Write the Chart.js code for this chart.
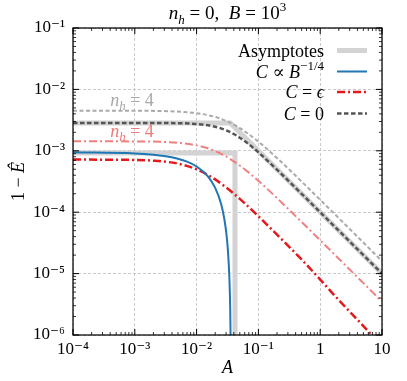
<!DOCTYPE html>
<html><head><meta charset="utf-8">
<script src="https://cdn.jsdelivr.net/npm/chart.js@4.4.1/dist/chart.umd.min.js"></script>
<style>html,body{margin:0;padding:0;background:#fff}</style>
</head><body>
<canvas id="c" width="407" height="381" style="width:407px;height:381px;display:block"></canvas>
<script>
// ---- data ----
const xTickVals = [1e-4, 1e-3, 1e-2, 1e-1, 1, 10];
const xTickLabels = ['10⁻⁴', '10⁻³', '10⁻²', '10⁻¹', '1', '10'];
const yTickVals = [1e-6, 1e-5, 1e-4, 1e-3, 1e-2, 1e-1];
const yTickLabels = ['10⁻⁶', '10⁻⁵', '10⁻⁴', '10⁻³', '10⁻²', '10⁻¹'];

// C ∝ B^{-1/4} (blue)
const blueA = [1e-4, 1e-3, 2e-3, 3e-3, 5e-3, 7e-3, 1e-2, 1.5e-2, 2e-2, 2.5e-2, 2.8e-2, 3e-2, 3.2e-2, 3.4e-2, 3.5e-2, 3.55e-2];
const blueY = [9.46e-4, 9.07e-4, 8.64e-4, 8.23e-4, 7.42e-4, 6.65e-4, 5.55e-4, 3.9e-4, 2.49e-4, 1.35e-4, 7.9e-5, 4.9e-5, 2.5e-5, 8.1e-6, 2.6e-6, 8.2e-7];

// C = ε, n_h = 0 (red)
const redA = [1e-4, 1e-3, 2e-3, 5e-3, 1e-2, 1.5e-2, 2e-2, 3e-2, 5e-2, 0.1, 0.2, 0.5, 1, 2, 5, 10];
const redY = [7.2e-4, 7.09e-4, 6.9e-4, 6.18e-4, 5.0e-4, 4.09e-4, 3.42e-4, 2.54e-4, 1.65e-4, 8.6e-5, 4.3e-5, 1.7e-5, 8.0e-6, 3.7e-6, 1.4e-6, 6.5e-7];

// shared A grid for the other curves
const gridA = [1e-4, 1e-3, 3e-3, 1e-2, 2e-2, 3e-2, 4e-2, 5e-2, 7e-2, 0.1, 0.2, 0.5, 1, 2, 5, 10];
// C = ε, n_h = 4 (light red)
const red4Y = [1.43e-3, 1.422e-3, 1.39e-3, 1.225e-3, 9.9e-4, 8.08e-4, 6.74e-4, 5.75e-4, 4.41e-4, 3.24e-4, 1.70e-4, 6.94e-5, 3.49e-5, 1.75e-5, 7e-6, 3.5e-6];
// C = 0, n_h = 0 (dark gray)
const gray0Y = [2.84e-3, 2.839e-3, 2.83e-3, 2.73e-3, 2.47e-3, 2.16e-3, 1.876e-3, 1.635e-3, 1.276e-3, 9.43e-4, 4.92e-4, 1.995e-4, 9.99e-5, 5e-5, 2e-5, 1e-5];
// C = 0, n_h = 4 (light gray)
const gray4Y = [4.5e-3, 4.486e-3, 4.428e-3, 4.10e-3, 3.56e-3, 3.07e-3, 2.67e-3, 2.34e-3, 1.86e-3, 1.409e-3, 7.63e-4, 3.16e-4, 1.59e-4, 8.0e-5, 3.2e-5, 1.6e-5];

// Asymptotes
const asymC0A = [1e-4, 0.0352, 10];
const asymC0Y = [2.84e-3, 2.84e-3, 1e-5];
const asymBA = [1e-4, 0.0418, 0.0418];
const asymBY = [9.2e-4, 9.2e-4, 1e-6];

// ---- helpers ----
const pts = (xs, ys) => xs.map((x, i) => ({x: x, y: ys[i]}));
const FONT = "'Liberation Serif', 'DejaVu Serif', serif";
const DASH_DOT = [8, 3, 2, 3];

function drawRuns(ctx, list, x, y, align, size, color) {
  const fonts = list.map(r => (r.i ? 'italic ' : '') + (r.sub || r.sup ? Math.round(size * 0.7) : size) + 'px ' + FONT);
  const widths = list.map((r, k) => { ctx.font = fonts[k]; return ctx.measureText(r.t).width; });
  const total = widths.reduce((a, b) => a + b, 0);
  let cx = align === 'right' ? x - total : align === 'center' ? x - total / 2 : x;
  ctx.fillStyle = color || '#000';
  ctx.textAlign = 'left';
  ctx.textBaseline = 'alphabetic';
  list.forEach((r, k) => {
    ctx.font = fonts[k];
    const dy = r.sub ? size * 0.25 : r.sup ? -size * 0.42 : 0;
    ctx.fillText(r.t, cx, y + dy);
    cx += widths[k];
  });
}

function labelFor(vals, labels, v) {
  for (let i = 0; i < vals.length; i++) {
    if (Math.abs(Math.log10(vals[i]) - Math.log10(v)) < 1e-6) return labels[i];
  }
  return '';
}

const legendItems = [
  {runs: [{t: 'Asymptotes'}], color: '#d3d3d3', width: 5, dash: []},
  {runs: [{t: 'C', i: 1}, {t: ' ∝ '}, {t: 'B', i: 1}, {t: '−1/4', sup: 1}], color: '#1f77b4', width: 2, dash: []},
  {runs: [{t: 'C', i: 1}, {t: ' = '}, {t: 'ϵ', i: 1}], color: '#e3191c', width: 2.5, dash: DASH_DOT},
  {runs: [{t: 'C', i: 1}, {t: ' = 0'}], color: '#555555', width: 2.5, dash: [4.5, 2.5]}
];

const decor = {
  id: 'decor',
  afterDraw(chart) {
    const ctx = chart.ctx, ca = chart.chartArea;
    const xs = chart.scales.x, ys = chart.scales.y;
    ctx.save();
    // inward ticks on all four sides
    ctx.strokeStyle = '#000';
    const tick = (p, horiz, len, lw) => {
      ctx.lineWidth = lw;
      ctx.beginPath();
      if (horiz) {
        ctx.moveTo(p, ca.bottom); ctx.lineTo(p, ca.bottom - len);
        ctx.moveTo(p, ca.top); ctx.lineTo(p, ca.top + len);
      } else {
        ctx.moveTo(ca.left, p); ctx.lineTo(ca.left + len, p);
        ctx.moveTo(ca.right, p); ctx.lineTo(ca.right - len, p);
      }
      ctx.stroke();
    };
    for (let e = -4; e <= 1; e++) {
      tick(xs.getPixelForValue(Math.pow(10, e)), true, 6, 1);
      if (e < 1) for (let m = 2; m <= 9; m++) tick(xs.getPixelForValue(m * Math.pow(10, e)), true, 3, 0.8);
    }
    for (let e = -6; e <= -1; e++) {
      tick(ys.getPixelForValue(Math.pow(10, e)), false, 6, 1);
      if (e < -1) for (let m = 2; m <= 9; m++) tick(ys.getPixelForValue(m * Math.pow(10, e)), false, 3, 0.8);
    }
    // frame
    ctx.lineWidth = 1.25;
    ctx.strokeRect(ca.left, ca.top, ca.right - ca.left, ca.bottom - ca.top);

    // title
    drawRuns(ctx, [{t: 'n', i: 1}, {t: 'h', i: 1, sub: 1}, {t: ' = 0,  '}, {t: 'B', i: 1}, {t: ' = 10'}, {t: '3', sup: 1}],
      (ca.left + ca.right) / 2, 19, 'center', 19);
    // axis titles
    drawRuns(ctx, [{t: 'A', i: 1}], (ca.left + ca.right) / 2, 373, 'center', 18);
    ctx.save();
    ctx.translate(24, (ca.top + ca.bottom) / 2);
    ctx.rotate(-Math.PI / 2);
    drawRuns(ctx, [{t: '1 − '}, {t: 'Ê', i: 1}], 0, 0, 'center', 18);
    ctx.restore();

    // inline labels
    drawRuns(ctx, [{t: 'n', i: 1}, {t: 'h', i: 1, sub: 1}, {t: ' = 4'}],
      xs.getPixelForValue(4e-4), ys.getPixelForValue(5.4e-3), 'left', 18, '#a8a8a8');
    drawRuns(ctx, [{t: 'n', i: 1}, {t: 'h', i: 1, sub: 1}, {t: ' = 4'}],
      xs.getPixelForValue(4e-4), ys.getPixelForValue(1.68e-3), 'left', 18, '#ee7b7b');

    // legend
    const rowY = [50.5, 71.5, 92, 113.5];
    legendItems.forEach((it, k) => {
      const y = rowY[k];
      drawRuns(ctx, it.runs, 324, y + 6, 'right', 18);
      ctx.strokeStyle = it.color;
      ctx.lineWidth = it.width;
      ctx.setLineDash(it.dash);
      ctx.beginPath();
      ctx.moveTo(337, y); ctx.lineTo(367, y);
      ctx.stroke();
      ctx.setLineDash([]);
    });
    ctx.restore();
  }
};

const common = {showLine: true, pointRadius: 0, pointHoverRadius: 0, fill: false, clip: 0, cubicInterpolationMode: 'monotone'};

new Chart(document.getElementById('c'), {
  type: 'scatter',
  data: {
    datasets: [
      Object.assign({label: 'C ∝ B^-1/4', data: pts(blueA, blueY), borderColor: '#1f77b4', borderWidth: 2, order: 1}, common),
      Object.assign({label: 'C = ε (n_h = 0)', data: pts(redA, redY), borderColor: '#e3191c', borderWidth: 2.5, borderDash: DASH_DOT, order: 2}, common),
      Object.assign({label: 'C = ε (n_h = 4)', data: pts(gridA, red4Y), borderColor: '#f08080', borderWidth: 2, borderDash: DASH_DOT, order: 3}, common),
      Object.assign({label: 'C = 0 (n_h = 0)', data: pts(gridA, gray0Y), borderColor: '#555555', borderWidth: 2.5, borderDash: [4.5, 2.5], order: 4}, common),
      Object.assign({label: 'C = 0 (n_h = 4)', data: pts(gridA, gray4Y), borderColor: '#aaaaaa', borderWidth: 2, borderDash: [4, 2.5], order: 5}, common),
      Object.assign({label: 'Asymptote C = 0', data: pts(asymC0A, asymC0Y), borderColor: '#d3d3d3', borderWidth: 5, order: 6}, common, {cubicInterpolationMode: 'default', tension: 0}),
      Object.assign({label: 'Asymptote B', data: pts(asymBA, asymBY), borderColor: '#d3d3d3', borderWidth: 5, order: 7}, common, {cubicInterpolationMode: 'default', tension: 0})
    ]
  },
  options: {
    responsive: false,
    animation: false,
    devicePixelRatio: 1,
    layout: {padding: {top: 28, right: 25, left: 0, bottom: 0}},
    plugins: {legend: {display: false}, tooltip: {enabled: false}, title: {display: false}},
    events: [],
    scales: {
      x: {
        type: 'logarithmic', min: 1e-4, max: 10, position: 'bottom',
        afterBuildTicks: s => { s.ticks = xTickVals.map(v => ({value: v})); },
        afterFit: s => { s.height = 46; s.paddingLeft = 0; s.paddingRight = 0; },
        ticks: {callback: v => labelFor(xTickVals, xTickLabels, v), color: '#000', font: {family: FONT, size: 17}, padding: 4, maxRotation: 0, autoSkip: false},
        grid: {color: '#bdbdbd', lineWidth: 0.8, drawTicks: false},
        border: {display: false, dash: [3, 2]}
      },
      y: {
        type: 'logarithmic', min: 1e-6, max: 1e-1,
        afterBuildTicks: s => { s.ticks = yTickVals.map(v => ({value: v})); },
        afterFit: s => { s.width = 73; s.paddingTop = 0; s.paddingBottom = 0; },
        ticks: {callback: v => labelFor(yTickVals, yTickLabels, v), color: '#000', font: {family: FONT, size: 17}, padding: 8, autoSkip: false},
        grid: {color: '#bdbdbd', lineWidth: 0.8, drawTicks: false},
        border: {display: false, dash: [3, 2]}
      }
    }
  },
  plugins: [decor]
});
</script>
</body></html>
